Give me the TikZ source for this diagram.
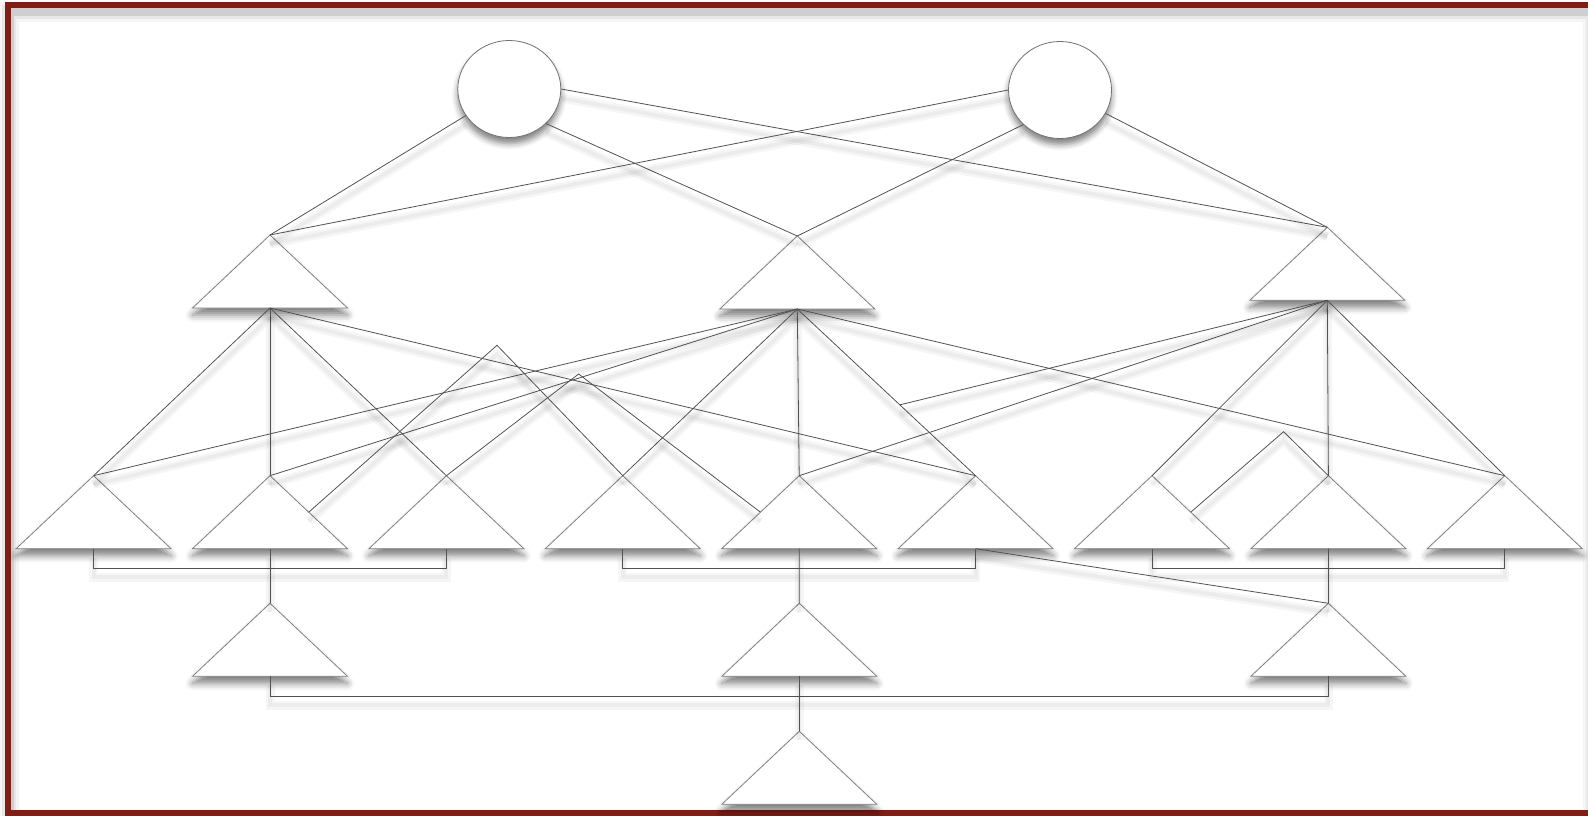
\documentclass[tikz,border=0pt]{standalone}
\usetikzlibrary{shapes.geometric,shadows.blur,calc}

\definecolor{framered}{RGB}{128,30,22}

\tikzset{
  link/.style={draw=black!68, line width=0.8pt,
    preaction={draw=black, draw opacity=0.035, line width=9pt, transform canvas={yshift=-9pt}},
    preaction={draw=black, draw opacity=0.04, line width=4pt, transform canvas={yshift=-9pt}}},
  ball/.style={ellipse, draw=black!55, fill=white, line width=0.8pt,
    minimum width=103pt, minimum height=97pt,
    blur shadow={shadow xshift=0pt, shadow yshift=-6pt, shadow blur radius=6pt, shadow opacity=50}},
  tri/.pic={
    \coordinate (-top) at (0,0);
    \coordinate (-bot) at (0,73);
    \coordinate (-left) at (-77.5,73);
    \coordinate (-right) at (77.5,73);
    \path[draw=black!50, line width=0.8pt, fill=white,
      blur shadow={shadow xshift=0pt, shadow yshift=-7pt, shadow blur radius=7pt, shadow opacity=50}]
      (-top) -- (-left) -- (-right) -- cycle;
  }
}

\begin{document}
\begin{tikzpicture}[x=1pt,y=-1pt]
        \useasboundingbox (0,0) rectangle (1588,816);
        \clip (0,0) rectangle (1588,816);

        % frame
        \foreach \w/\o in {20/0.04,14/0.06,9/0.1}
          \draw[black, opacity=\o, line width=\w pt] (9,12) rectangle (1593,819);
        \draw[framered, line width=6pt] (8,5) rectangle (1592,812.5);

        % shapes
        \node[ball] (c1) at (509.3,89) {};
        \node[ball] (c2) at (1060,90) {};

        \pic (TA) at (270,235) {tri};
        \pic (TB) at (797.3,236) {tri};
        \pic (TC) at (1327.3,227.3) {tri};

        \foreach \i in {1,...,9}
          \pic (L\i) at ({93.6+176.4*(\i-1)},475.7) {tri};

        \pic (M1) at (270,603.3) {tri};
        \pic (M2) at (799.3,603.3) {tri};
        \pic (M3) at (1328.4,603.3) {tri};
        \pic (B) at (799.3,731.3) {tri};

        % circles to upper row
        \draw[link] (c1) -- (TA-top);
        \draw[link] (c1.south east) -- (TB-top);
        \draw[link] (c1.east) -- (TC-top);
        \draw[link] (c2.west) -- (TA-top);
        \draw[link] (c2.south west) -- (TB-top);
        \draw[link] (c2) -- (TC-top);

        % upper row to leaves
        \foreach \l in {L1,L2,L3,L6} \draw[link] (TA-bot) -- (\l-top);
        \foreach \l in {L1,L2,L4,L5,L6,L9} \draw[link] (TB-bot) -- (\l-top);
        \foreach \l in {L5,L7,L8,L9} \draw[link] (TC-bot) -- (\l-top);
        \coordinate (stub) at ($(TB-bot)!0.575!(L6-top)$);
        \draw[link] (TC-bot) -- (stub);

        % peaks
        \coordinate (p1) at (497,345.3);
        \coordinate (p2) at (578.6,374);
        \coordinate (p3) at (1283.6,431.7);
        \draw[link] ($(L2-top)!.5!(L2-right)$) -- (p1) -- (L4-top);
        \draw[link] (L3-top) -- (p2) -- ($(L5-top)!.5!(L5-left)$);
        \draw[link] ($(L7-top)!.5!(L7-right)$) -- (p3) -- (L8-top);

        % brackets
        \draw[link] (L1-bot) -- ++(0,19.6) -| (L3-bot);
        \draw[link] (L4-bot) -- ++(0,19.6) -| (L6-bot);
        \draw[link] (L7-bot) -- ++(0,19.6) -| (L9-bot);
        \draw[link] (L2-bot) -- (M1-top);
        \draw[link] (L5-bot) -- (M2-top);
        \draw[link] (L8-bot) -- (M3-top);
        \draw[link] (L6-bot) -- (M3-top);
        \draw[link] (M1-bot) -- ++(0,19.7) -| (M3-bot);
        \draw[link] (M2-bot) -- (B-top);
\end{tikzpicture}
\end{document}
